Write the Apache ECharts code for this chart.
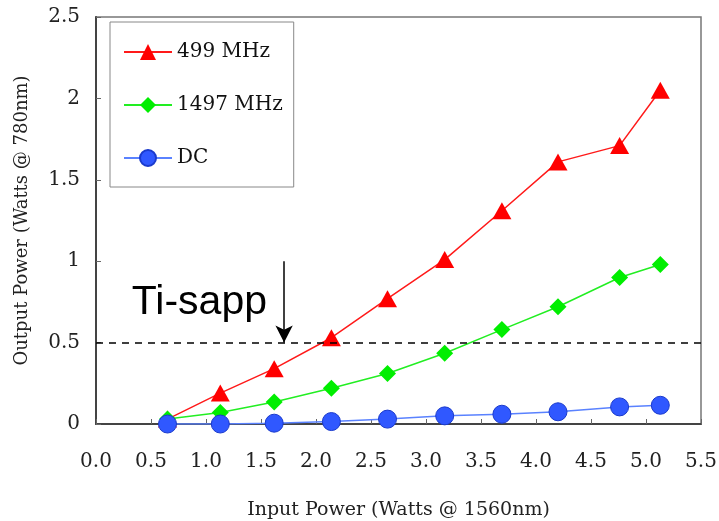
<!DOCTYPE html>
<html>
<head>
<meta charset="utf-8">
<script src="https://cdn.jsdelivr.net/npm/echarts@6/dist/echarts.min.js"></script>
<style>html,body{margin:0;padding:0;background:#fff;}#c{width:719px;height:521px;}</style>
</head>
<body>
<div id="c"></div>
<script>
const inputPower = [0.65, 1.13, 1.62, 2.14, 2.65, 3.17, 3.69, 4.2, 4.76, 5.13];
const mhz499 = [0.03, 0.19, 0.34, 0.53, 0.77, 1.01, 1.31, 1.61, 1.71, 2.05];
const mhz1497 = [0.03, 0.07, 0.135, 0.22, 0.31, 0.435, 0.58, 0.72, 0.90, 0.98];
const dc = [0.0, 0.0, 0.005, 0.015, 0.03, 0.05, 0.06, 0.075, 0.105, 0.115];
const seriesNames = ['499 MHz', '1497 MHz', 'DC'];
const thresholdY = 0.5;
const arrowX = 1.71;
const arrowTopY = 1.0;
const annotationText = 'Ti-sapp';

const pair = (ys) => inputPower.map((x, i) => [x, ys[i]]);
const serif = 'DejaVu Serif';

const chart = echarts.init(document.getElementById('c'), null, {renderer: 'canvas'});
chart.setOption({
  animation: false,
  backgroundColor: '#fff',
  grid: {left: 96, right: 18, top: 17, bottom: 97, show: true, borderColor: '#777', borderWidth: 1.5, outerBoundsMode: 'none'},
  legend: {
    orient: 'vertical', left: 110, top: 22,
    padding: [20, 11, 19, 13],
    itemGap: 33, itemWidth: 48, itemHeight: 20,
    borderColor: '#888', borderWidth: 1,
    backgroundColor: '#fff',
    textStyle: {fontFamily: serif, fontSize: 20, color: '#111'},
    data: seriesNames
  },
  xAxis: {
    type: 'value', min: 0, max: 5.5, interval: 0.5,
    name: 'Input Power (Watts @ 1560nm)', nameLocation: 'middle', nameGap: 77,
    nameTextStyle: {fontFamily: serif, fontSize: 19, color: '#222'},
    axisLine: {lineStyle: {color: '#444', width: 2}},
    axisTick: {inside: true, length: 5, lineStyle: {color: '#666'}},
    axisLabel: {fontFamily: serif, fontSize: 20, color: '#222', margin: 28, formatter: v => v.toFixed(1)},
    splitLine: {show: false}
  },
  yAxis: {
    type: 'value', min: 0, max: 2.5, interval: 0.5,
    name: 'Output Power (Watts @ 780nm)', nameLocation: 'middle', nameGap: 65,
    nameTextStyle: {fontFamily: serif, fontSize: 18, color: '#222'},
    axisLine: {show: true, lineStyle: {color: '#444', width: 2}},
    axisTick: {show: true, inside: true, length: 5, lineStyle: {color: '#666'}},
    axisLabel: {fontFamily: serif, fontSize: 20, color: '#222', margin: 16},
    splitLine: {show: false}
  },
  series: [
    {
      name: seriesNames[0], type: 'line', data: pair(mhz499), z: 3,
      symbol: 'triangle', symbolSize: [19, 17],
      lineStyle: {color: '#ff1a1a', width: 1.5},
      itemStyle: {color: '#ff0000', borderWidth: 0},
      markLine: {
        silent: true, symbol: ['none', 'none'], label: {show: false},
        lineStyle: {color: '#000', type: [7, 6], width: 1.5},
        data: [{yAxis: thresholdY}]
      }
    },
    {
      name: seriesNames[1], type: 'line', data: pair(mhz1497), z: 4,
      symbol: 'diamond', symbolSize: [17, 17],
      lineStyle: {color: '#22ee22', width: 1.5},
      itemStyle: {color: '#00ee00', borderWidth: 0},
      markLine: {
        silent: true, symbol: ['none', 'arrow'], symbolSize: [13, 17], label: {show: false},
        lineStyle: {color: '#000', type: 'solid', width: 1.5},
        data: [[{coord: [arrowX, arrowTopY]}, {coord: [arrowX, thresholdY]}]]
      }
    },
    {
      name: seriesNames[2], type: 'line', data: pair(dc), z: 5,
      symbol: 'circle', symbolSize: 18,
      lineStyle: {color: '#5a82ff', width: 1.5},
      itemStyle: {color: '#3058ff', borderColor: '#1a3acc', borderWidth: 1},
      markPoint: {
        silent: true, symbol: 'rect', symbolSize: 1,
        itemStyle: {color: 'rgba(0,0,0,0)'},
        label: {show: true, position: 'inside', formatter: annotationText, fontFamily: 'Liberation Sans', fontSize: 41, color: '#000'},
        data: [{coord: [0.94, 0.748]}]
      }
    }
  ]
});
</script>
</body>
</html>
